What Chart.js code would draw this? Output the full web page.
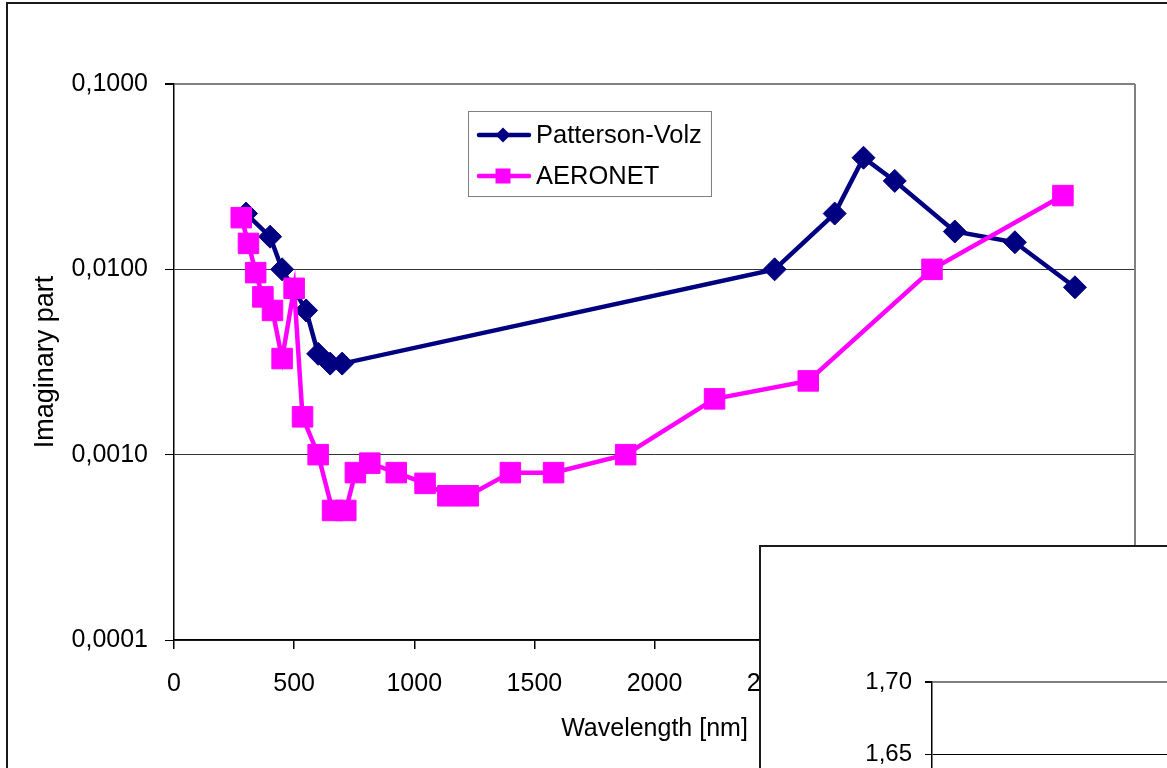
<!DOCTYPE html>
<html>
<head>
<meta charset="utf-8">
<script src="https://cdn.jsdelivr.net/npm/chart.js@4.4.1/dist/chart.umd.min.js"></script>
<style>
html, body { margin: 0; padding: 0; background: #fff; overflow: hidden; width: 1167px; height: 768px; }
#frame { position: absolute; left: 6px; top: 2px; width: 1400px; height: 1000px; border: 2px solid #1a1a1a; }
#main { position: absolute; left: 0; top: 0; }
#inset { position: absolute; left: 759px; top: 545px; width: 600px; height: 600px; border: 2px solid #1a1a1a; background: #fff; }
#inset canvas { position: absolute; left: 0; top: 0; }
</style>
</head>
<body>
<div id="frame"></div>
<canvas id="main" width="1167" height="768"></canvas>
<div id="inset"><canvas id="insetCanvas" width="600" height="600"></canvas></div>
<script>
const FONT = "'Liberation Sans', Arial, sans-serif"

// Patterson-Volz
const pvWavelength = [300, 400, 450, 550, 600, 650, 700, 2500, 2750, 2870, 3000, 3250, 3500, 3750]
const pvImag = [0.020, 0.015, 0.010, 0.006, 0.0035, 0.0031, 0.0031, 0.010, 0.020, 0.040, 0.030, 0.016, 0.014, 0.008]

// AERONET
const aeWavelength = [280, 310, 340, 370, 410, 450, 500, 535, 600, 660, 715, 755, 815, 925, 1045, 1140, 1225, 1400, 1580, 1880, 2250, 2640, 3155, 3700]
const aeImag = [0.019, 0.0138, 0.0096, 0.0071, 0.0060, 0.0033, 0.0079, 0.0016, 0.0010, 0.0005, 0.0005, 0.0008, 0.0009, 0.0008, 0.0007, 0.0006, 0.0006, 0.0008, 0.0008, 0.0010, 0.0020, 0.0025, 0.0100, 0.0250]

const imagTicks = [0.0001, 0.001, 0.01, 0.1]
const realTicks = [1.40, 1.45, 1.50, 1.55, 1.60, 1.65, 1.70]

const toPoints = (xs, ys) => xs.map((x, i) => ({x: x, y: ys[i]}))

// grey frame on the right side of the plot area
const plotFrame = {
    id: "plotFrame",
    beforeDatasetsDraw(chart){
        const {ctx, chartArea} = chart
        ctx.save()
        ctx.strokeStyle = "#808080"
        ctx.lineWidth = 2
        ctx.beginPath()
        ctx.moveTo(chartArea.right, chartArea.top)
        ctx.lineTo(chartArea.right, chartArea.bottom)
        ctx.stroke()
        ctx.restore()
    }
}

// legend box inside the plot, like the original
const boxLegend = {
    id: "boxLegend",
    afterDraw(chart){
        const ctx = chart.ctx
        ctx.save()
        ctx.fillStyle = "#fff"
        ctx.fillRect(468, 111, 243, 85)
        ctx.strokeStyle = "#808080"
        ctx.lineWidth = 1
        ctx.strokeRect(468.5, 111.5, 243, 85)
        const rows = [135, 176]
        chart.data.datasets.forEach((ds, i) => {
            const y = rows[i]
            ctx.strokeStyle = ds.borderColor
            ctx.fillStyle = ds.borderColor
            ctx.lineWidth = 4.5
            ctx.lineCap = "round"
            ctx.beginPath()
            ctx.moveTo(479, y)
            ctx.lineTo(529, y)
            ctx.stroke()
            ctx.beginPath()
            if(ds.pointStyle == "rectRot"){
                ctx.moveTo(503, y - 7.5)
                ctx.lineTo(510.5, y)
                ctx.lineTo(503, y + 7.5)
                ctx.lineTo(495.5, y)
                ctx.closePath()
            } else {
                ctx.rect(495.5, y - 7.5, 15, 15)
            }
            ctx.fill()
            ctx.fillStyle = "#000"
            ctx.font = `25.5px ${FONT}`
            ctx.textBaseline = "middle"
            ctx.textAlign = "left"
            ctx.fillText(ds.label, 536, y + 1)
        })
        ctx.restore()
    }
}

new Chart(document.getElementById("main"), {
    type: "line",
    data: {
        datasets: [
            {
                label: "Patterson-Volz",
                data: toPoints(pvWavelength, pvImag),
                borderColor: "#000080",
                backgroundColor: "#000080",
                borderWidth: 4.5,
                pointStyle: "rectRot",
                pointRadius: 11.5,
                pointBorderWidth: 1,
                pointBackgroundColor: "#000080",
                pointBorderColor: "#000080",
                tension: 0,
                order: 2
            },
            {
                label: "AERONET",
                data: toPoints(aeWavelength, aeImag),
                borderColor: "#ff00ff",
                backgroundColor: "#ff00ff",
                borderWidth: 4.5,
                pointStyle: "rect",
                pointRadius: 14.5,
                pointBorderWidth: 1,
                pointBackgroundColor: "#ff00ff",
                pointBorderColor: "#ff00ff",
                tension: 0,
                order: 1
            }
        ]
    },
    options: {
        responsive: false,
        animation: false,
        layout: { padding: { top: 84, right: 32, left: 0, bottom: 0 } },
        plugins: { legend: { display: false }, tooltip: { enabled: false } },
        scales: {
            x: {
                type: "linear",
                min: 0,
                max: 4000,
                afterFit: s => { s.height = 128; s.paddingLeft = 0; s.paddingRight = 0 },
                ticks: {
                    stepSize: 500,
                    autoSkip: false,
                    maxRotation: 0,
                    callback: v => String(v),
                    font: { size: 25, family: FONT },
                    color: "#000",
                    padding: 20
                },
                grid: { drawOnChartArea: false, tickLength: 9, tickColor: "#000", lineWidth: 1.5 },
                border: { color: "#000", width: 1.5 },
                title: {
                    display: true,
                    text: "Wavelength [nm]",
                    color: "#000",
                    font: { size: 25, family: FONT },
                    padding: { bottom: 24 }
                }
            },
            y: {
                type: "logarithmic",
                min: 0.0001,
                max: 0.1,
                afterBuildTicks: s => { s.ticks = imagTicks.map(v => ({value: v})) },
                afterFit: s => { s.width = 174; s.paddingTop = 0; s.paddingBottom = 0 },
                ticks: {
                    callback: v => Number(v).toFixed(4).replace(".", ","),
                    font: { size: 25, family: FONT },
                    color: "#000",
                    padding: 17
                },
                grid: {
                    color: c => (c.tick && c.tick.value == 0.1) ? "#808080" : "#333",
                    lineWidth: c => (c.tick && c.tick.value == 0.1) ? 2 : 1,
                    tickLength: 9,
                    tickColor: "#000"
                },
                border: { color: "#000", width: 1.5 },
                title: {
                    display: true,
                    text: "Imaginary part",
                    color: "#000",
                    font: { size: 27, family: FONT },
                    padding: { top: 29 }
                }
            }
        }
    },
    plugins: [plotFrame, boxLegend]
})

// second chart partly hidden behind, only its upper axis is visible
new Chart(document.getElementById("insetCanvas"), {
    type: "line",
    data: { datasets: [] },
    options: {
        responsive: false,
        animation: false,
        layout: { padding: { top: 135, bottom: 33, left: 0, right: 0 } },
        plugins: { legend: { display: false }, tooltip: { enabled: false } },
        scales: {
            x: { type: "linear", display: false, min: 0, max: 4000 },
            y: {
                type: "linear",
                min: 1.40,
                max: 1.70,
                afterBuildTicks: s => { s.ticks = realTicks.map(v => ({value: v})) },
                afterFit: s => { s.width = 171; s.paddingTop = 0; s.paddingBottom = 0 },
                ticks: {
                    callback: v => Number(v).toFixed(2).replace(".", ","),
                    font: { size: 24, family: FONT },
                    color: "#000",
                    padding: 13
                },
                grid: {
                    color: c => (c.tick && Math.abs(c.tick.value - 1.7) < 1e-9) ? "#808080" : "#000",
                    lineWidth: c => (c.tick && Math.abs(c.tick.value - 1.7) < 1e-9) ? 2 : 1,
                    tickLength: 7,
                    tickColor: "#000"
                },
                border: { color: "#000", width: 1.5 }
            }
        }
    }
})
</script>
</body>
</html>
